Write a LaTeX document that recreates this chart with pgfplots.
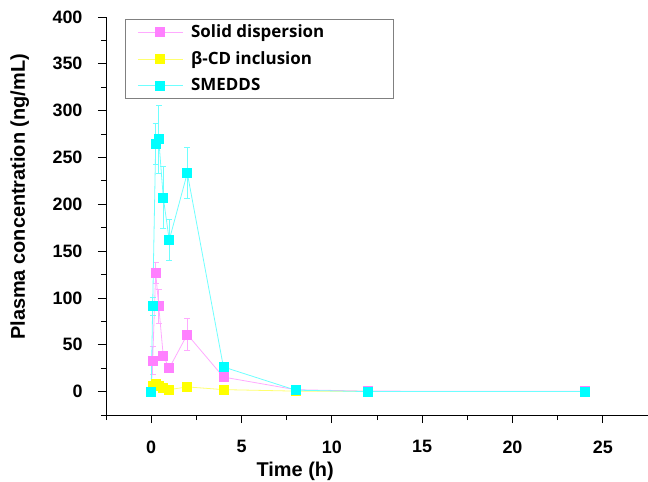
\documentclass[border=0pt]{standalone}
\usepackage{pgfplots}
\pgfplotsset{compat=1.18}
\usepackage{fontspec}
\setmainfont{Liberation Sans}
\newfontfamily\legfont{Open Sans}
\definecolor{pinkM}{RGB}{255,128,255}
\definecolor{pinkL}{RGB}{255,170,255}
\definecolor{yelM}{RGB}{255,255,0}
\definecolor{yelL}{RGB}{255,255,110}
\definecolor{cyanM}{RGB}{0,255,255}
\definecolor{cyanL}{RGB}{110,255,255}
\definecolor{legdraw}{RGB}{128,128,128}
\begin{document}
\begin{tikzpicture}
\begin{axis}[
 scale only axis, width=542bp, height=398bp,
 xmin=-2.5, xmax=27.5, ymin=-25, ymax=400,
 axis x line=bottom, axis y line=left,
 axis line style={-, black, line width=0.8pt},
 xtick={0,5,...,25}, ytick={0,50,...,400},
 minor xtick={-2.5,2.5,7.5,12.5,17.5,22.5,27.5},
 minor ytick={-25,25,75,125,175,225,275,325,375},
 tick align=outside, major tick length=8bp, minor tick length=5bp,
 tick style={black, line width=0.8pt},
 /pgf/number format/assume math mode=true,
 ticklabel style={font=\fontsize{18}{20}\selectfont\bfseries},
 xticklabel style={yshift=-14bp},
 yticklabel style={xshift=-12bp},
 xlabel={Time (h)}, ylabel={Plasma concentration (ng/mL)},
 label style={font=\fontsize{20}{22}\selectfont\bfseries},
 xlabel style={at={(axis description cs:0.349,-0.141)}, anchor=center},
 ylabel style={at={(axis description cs:-0.159,0.548)}, anchor=center},
 legend cell align=left,
 legend style={at={(0.035,0.995)}, anchor=north west, draw=legdraw, line width=0.8pt,
   font=\legfont\fontsize{17}{19}\selectfont\bfseries, row sep=8.5bp,
   inner xsep=12bp, inner ysep=3.5bp},
 legend image code/.code={\draw[#1, mark repeat=2, mark phase=2] plot coordinates {(0bp,0bp) (22.5bp,0bp) (45bp,0bp)};},
]
\addplot[color=pinkL, line width=0.8pt, mark=square*, mark size=4.5bp,
  mark options={fill=pinkM, draw=pinkM},
  error bars/.cd, y dir=both, y explicit,
  error bar style={pinkL, line width=0.8pt},
  error mark options={rotate=90, mark size=3bp, pinkL, line width=0.8pt}]
 table[x=t, y=c, y error=e] {
 t c e
 0 0 0
 0.083 33 15
 0.25 127 11
 0.42 91 18
 0.67 38 5
 1 25 3
 2 61 17.5
 4 15.5 2
 8 2 0.5
 12 0.5 0.2
 24 0.3 0.1
 };
\addlegendentry{\hbox to 194bp{\hskip 6bp Solid dispersion\hfil}}
\addplot[color=yelL, line width=0.8pt, mark=square*, mark size=4.5bp,
  mark options={fill=yelM, draw=yelM},
  error bars/.cd, y dir=both, y explicit,
  error bar style={yelL, line width=0.8pt},
  error mark options={rotate=90, mark size=3bp, yelL, line width=0.8pt}]
 table[x=t, y=c, y error=e] {
 t c e
 0 0 0
 0.083 6.5 1
 0.25 8.5 1
 0.42 5.7 1
 0.67 3.9 0.8
 1 2.1 0.5
 2 5 1
 4 2.1 0.5
 8 0.5 0.2
 12 0.2 0.1
 24 0.1 0.1
 };
\addlegendentry{\hbox to 194bp{\hskip 6bp β-CD inclusion\hfil}}
\addplot[color=cyanL, line width=0.8pt, mark=square*, mark size=4.5bp,
  mark options={fill=cyanM, draw=cyanM},
  error bars/.cd, y dir=both, y explicit,
  error bar style={cyanL, line width=0.8pt},
  error mark options={rotate=90, mark size=3bp, cyanL, line width=0.8pt}]
 table[x=t, y=c, y error=e] {
 t c e
 0 0 0
 0.083 91 10
 0.25 264.5 22
 0.42 269.5 36
 0.67 207.3 33
 1 161.8 22
 2 233.3 27
 4 26.3 3
 8 1.5 0.5
 12 0 0.2
 24 0 0.1
 };
\addlegendentry{\hbox to 194bp{\hskip 6bp SMEDDS\hfil}}
\end{axis}
\pgfresetboundingbox
\path ([xshift=-106bp,yshift=-67bp]current axis.south west) rectangle ([yshift=17bp]current axis.north east);
\end{tikzpicture}
\end{document}
